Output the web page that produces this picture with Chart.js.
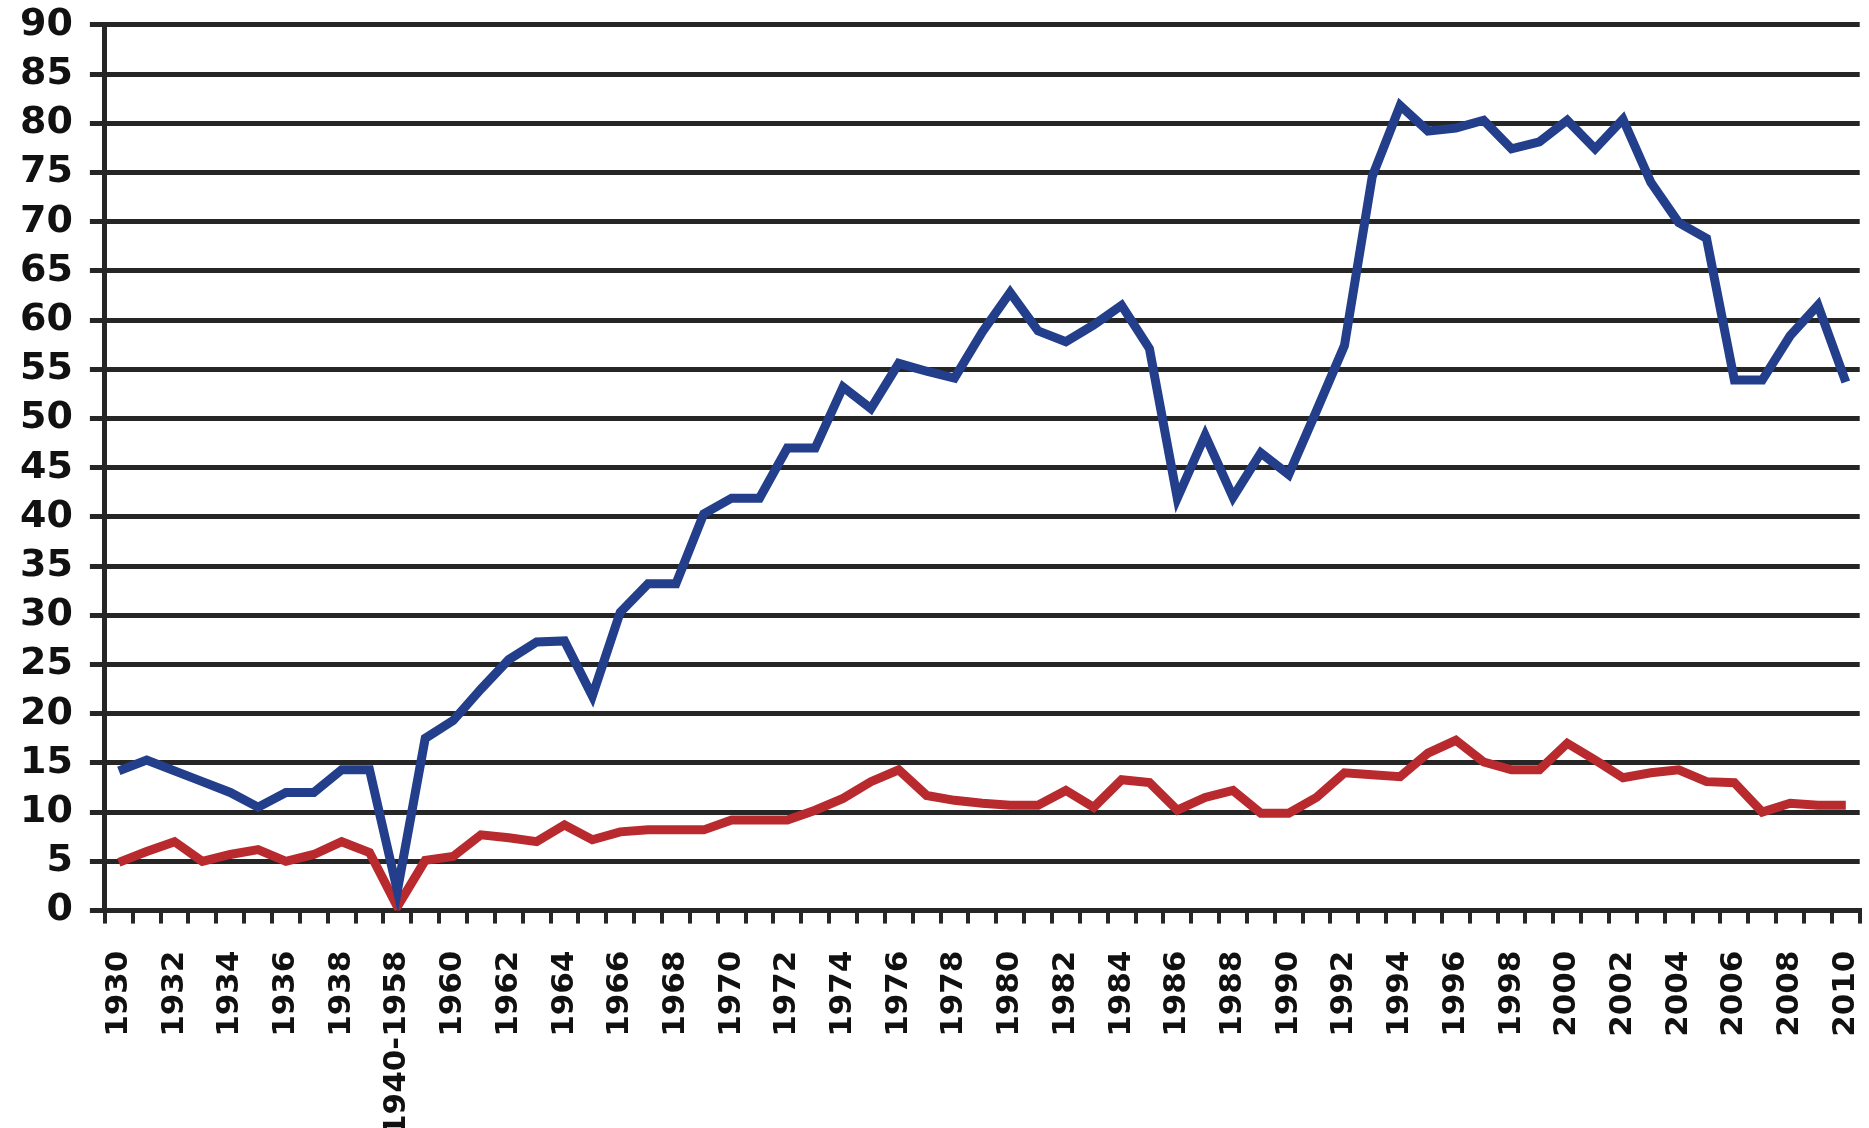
<!DOCTYPE html>
<html>
<head>
<meta charset="utf-8">
<script src="https://cdn.jsdelivr.net/npm/chart.js@4/dist/chart.umd.min.js"></script>
<style>
  html, body { margin: 0; padding: 0; background: #ffffff; }
  #frame { width: 1869px; height: 1128px; position: relative; overflow: hidden; background: #ffffff; }
  /* el lienzo es algo mayor que la ventana para recortar los márgenes automáticos */
  #wrap { position: absolute; left: 0; top: -15px; width: 1910px; height: 1156px; }
</style>
</head>
<body>
<div id="frame"><div id="wrap"><canvas id="chart1"></canvas></div></div>
<script>
// Categorías del eje X
const years = [
  "1930", "1931", "1932", "1933", "1934", "1935", "1936", "1937", "1938", "1939",
  "1940-1958",
  "1959", "1960", "1961", "1962", "1963", "1964", "1965", "1966", "1967", "1968",
  "1969", "1970", "1971", "1972", "1973", "1974", "1975", "1976", "1977", "1978",
  "1979", "1980", "1981", "1982", "1983", "1984", "1985", "1986", "1987", "1988",
  "1989", "1990", "1991", "1992", "1993", "1994", "1995", "1996", "1997", "1998",
  "1999", "2000", "2001", "2002", "2003", "2004", "2005", "2006", "2007", "2008",
  "2009", "2010",
];

// Serie azul
const blueValues = [
  14.2, 15.3, 14.2, 13.1, 12.0, 10.5, 12.0, 12.0, 14.3, 14.3,
  2.0,
  17.5, 19.3, 22.5, 25.5, 27.3, 27.4, 21.8, 30.3, 33.2, 33.2,
  40.3, 41.9, 41.9, 47.0, 47.0, 53.2, 51.0, 55.6, 54.8, 54.1,
  58.8, 62.8, 58.9, 57.8, 59.5, 61.5, 57.1, 41.9, 48.3, 42.0,
  46.5, 44.3, 50.8, 57.4, 74.6, 81.8, 79.2, 79.5, 80.3, 77.4,
  78.1, 80.3, 77.4, 80.4, 74.0, 69.9, 68.3, 53.9, 53.9, 58.4,
  61.5, 53.7,
];

// Serie roja
const redValues = [
  4.9, 6.0, 7.0, 5.0, 5.7, 6.2, 5.0, 5.7, 7.0, 5.9,
  0.4,
  5.1, 5.5, 7.7, 7.4, 7.0, 8.7, 7.2, 8.0, 8.2, 8.2,
  8.2, 9.2, 9.2, 9.2, 10.2, 11.4, 13.1, 14.3, 11.7, 11.2,
  10.9, 10.7, 10.7, 12.2, 10.5, 13.3, 13.0, 10.2, 11.5, 12.2,
  9.9, 9.9, 11.5, 14.0, 13.8, 13.6, 16.0, 17.3, 15.1, 14.3,
  14.3, 17.0, 15.3, 13.5, 14.0, 14.3, 13.1, 13.0, 10.0, 10.9,
  10.7, 10.7,
];

// Eje Y
const yMin = 0;
const yMax = 90;
const yStep = 5;

const gridColor = "#262626";

var ctx1 = document.getElementById("chart1").getContext("2d");
var chart1 = new Chart(ctx1, {
  type: "line",
  data: {
    labels: years,
    datasets: [
      {
        label: "Azul",
        data: blueValues,
        borderColor: "#233f8c",
        borderWidth: 9,
        pointRadius: 0,
        tension: 0,
        fill: false,
      },
      {
        label: "Rojo",
        data: redValues,
        borderColor: "#b92a2f",
        borderWidth: 9,
        pointRadius: 0,
        tension: 0,
        fill: false,
      },
    ],
  },
  options: {
    responsive: true,
    maintainAspectRatio: false,
    animation: false,
    layout: {
      padding: { left: 3, right: 0, top: 0, bottom: -22 },
    },
    plugins: {
      legend: { display: false },
      tooltip: { enabled: false },
    },
    scales: {
      x: {
        offset: true,
        grid: {
          offset: true,
          drawOnChartArea: false,
          drawTicks: true,
          tickLength: 13,
          color: gridColor,
          lineWidth: 4,
        },
        border: { display: true, color: gridColor, width: 5 },
        ticks: {
          autoSkip: false,
          minRotation: 90,
          maxRotation: 90,
          padding: 27,
          color: "#111",
          font: { family: "DejaVu Sans", weight: "bold", size: 31 },
          callback: function (value, index) {
            // Solo una etiqueta de cada dos
            return index % 2 === 0 ? this.getLabelForValue(value) : "";
          },
        },
      },
      y: {
        min: yMin,
        max: yMax,
        grid: {
          color: gridColor,
          lineWidth: 5,
          tickLength: 15,
        },
        border: { display: true, color: gridColor, width: 5 },
        ticks: {
          stepSize: yStep,
          padding: 17,
          color: "#111",
          font: { family: "DejaVu Sans", weight: "bold", size: 38 },
        },
      },
    },
  },
});
</script>
</body>
</html>
